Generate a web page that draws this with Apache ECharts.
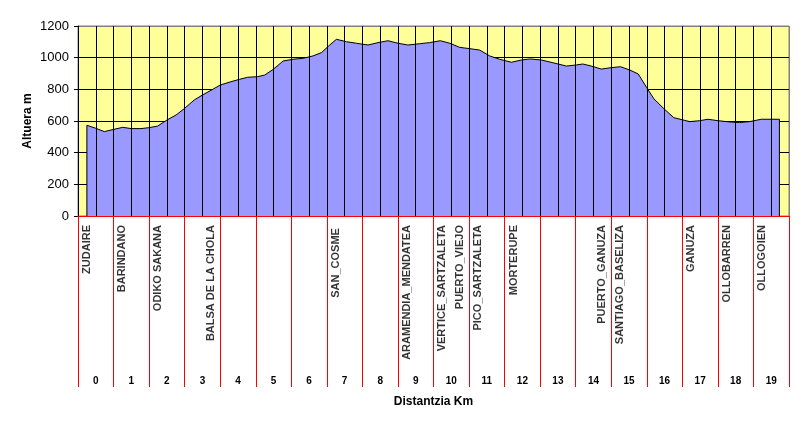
<!DOCTYPE html>
<html><head><meta charset="utf-8">
<script src="https://cdn.jsdelivr.net/npm/echarts@6/dist/echarts.min.js"></script>
<style>html,body{margin:0;padding:0;background:#fff}#c{width:804px;height:429px}</style>
</head><body><div id="c"></div>
<script>
// Elevation profile (distance in km, altitude in m)
const distKm = [0.25,0.5,0.74,1.0,1.26,1.5,1.77,2.0,2.24,2.5,2.76,3.0,3.27,3.5,3.79,4.0,4.3,4.54,4.77,5.05,5.25,5.49,5.77,6.05,6.33,6.61,6.85,7.08,7.27,7.55,7.83,8.16,8.44,8.72,9.0,9.28,9.61,9.89,10.19,10.46,10.74,11.02,11.3,11.58,11.86,12.19,12.47,12.71,13.04,13.36,13.74,14.02,14.2,14.44,14.72,15.0,15.26,15.52,15.76,16.0,16.2,16.48,16.76,17.21,17.49,17.72,18.0,18.33,18.61,18.89,19.22,19.73];
const altM   = [573,554,533,547,560,552,552,558,568,606,638,680,733,764,800,827,848,863,876,880,890,926,979,990,996,1011,1032,1080,1116,1101,1091,1080,1095,1107,1091,1080,1088,1095,1107,1091,1065,1057,1048,1011,990,971,985,992,985,968,947,954,960,947,928,937,943,922,897,810,740,678,621,596,602,611,602,594,590,596,611,611];
const kmLabels = ['0','1','2','3','4','5','6','7','8','9','10','11','12','13','14','15','16','17','18','19'];
const placeNames = ['ZUDAIRE','BARINDANO','ODIKO SAKANA','BALSA DE LA CHOLA','SAN_COSME ','ARAMENDIA_MENDATEA','VERTICE_SARTZALETA','PUERTO_VIEJO','PICO_SARTZALETA','MORTERUPE','PUERTO_GANUZA','SANTIAGO_BASELIZA','GANUZA','OLLOBARREN','OLLOGOIEN'];
const placeKm = [0.25,1.25,2.25,3.75,7.25,9.25,10.25,10.75,11.25,12.25,14.75,15.25,17.25,18.25,19.25];

const FONT = '"Liberation Sans", Arial, sans-serif';
const profile = distKm.map((d, i) => [d, altM[i]]);
const areaData = [[distKm[0], 0]].concat(profile, [[distKm[distKm.length - 1], 0]]);
const xSplitColors = Array.from({length: 41}, (_, i) => i === 40 ? '#808080' : '#000000');
const ySplitColors = ['#FF0000', '#000000', '#000000', '#000000', '#000000', '#000000', '#808080'];

const chart = echarts.init(document.getElementById('c'), null, {renderer: 'canvas'});
chart.setOption({
  animation: false,
  backgroundColor: '#ffffff',
  textStyle: {fontFamily: FONT},
  grid: [
    {left: 78, right: 15, top: 26, height: 190, show: true, backgroundColor: '#FFFF99', borderColor: '#808080', borderWidth: 1},
    {left: 78, right: 15, top: 216, height: 171}
  ],
  xAxis: [
    {type: 'value', gridIndex: 0, min: 0, max: 20, interval: 0.5, z: 5,
     axisLine: {show: true, lineStyle: {color: '#FF0000', width: 1}},
     axisTick: {show: false}, axisLabel: {show: false},
     splitLine: {show: true, lineStyle: {color: xSplitColors, width: 1}}},
    {type: 'category', gridIndex: 1, data: kmLabels, boundaryGap: true,
     axisLine: {show: false}, axisTick: {show: false},
     axisLabel: {inside: true, margin: 1, fontSize: 10, fontWeight: 'bold', color: '#000', fontFamily: FONT},
     splitLine: {show: true, lineStyle: {color: '#FF0000', width: 1}},
     name: 'Distantzia Km', nameLocation: 'middle', nameGap: 9, nameMoveOverlap: false,
     nameTextStyle: {fontSize: 12, fontWeight: 'bold', color: '#000', fontFamily: FONT}},
    {type: 'value', gridIndex: 1, min: 0, max: 20, show: false}
  ],
  yAxis: [
    {type: 'value', gridIndex: 0, min: 0, max: 1200, interval: 200,
     axisLine: {show: true, lineStyle: {color: '#000', width: 1}},
     axisTick: {show: true, length: 4, lineStyle: {color: '#000'}},
     axisLabel: {fontSize: 13, color: '#000', margin: 9, fontFamily: FONT, formatter: v => String(v)},
     splitLine: {show: true, lineStyle: {color: ySplitColors, width: 1}},
     name: 'Altuera m', nameLocation: 'middle', nameGap: 44, nameMoveOverlap: false,
     nameTextStyle: {fontSize: 12, fontWeight: 'bold', color: '#000', fontFamily: FONT}},
    {type: 'value', gridIndex: 1, min: 0, max: 1, show: false}
  ],
  series: [
    {type: 'line', xAxisIndex: 0, yAxisIndex: 0, data: areaData, symbol: 'none',
     lineStyle: {color: '#000', width: 1}, areaStyle: {color: '#9999FF', opacity: 1}, z: 2},
    {type: 'scatter', xAxisIndex: 2, yAxisIndex: 1,
     data: placeKm.map(k => [k, 1]), symbolSize: 1, itemStyle: {color: 'rgba(0,0,0,0)'},
     label: {show: true, position: 'inside', formatter: p => placeNames[p.dataIndex],
             rotate: 90, align: 'right', verticalAlign: 'middle', padding: [3, 9, 0, 0],
             fontSize: 11, fontWeight: 'bold', color: '#000', fontFamily: FONT}}
  ]
});
</script></body></html>
